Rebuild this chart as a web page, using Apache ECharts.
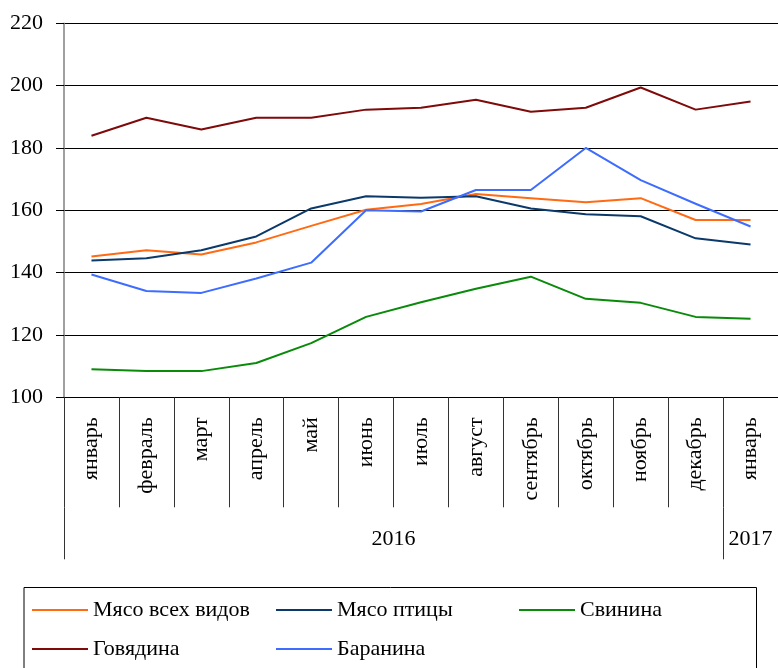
<!DOCTYPE html>
<html>
<head>
<meta charset="utf-8">
<script src="https://cdn.jsdelivr.net/npm/echarts@6/dist/echarts.min.js"></script>
<style>
html,body{margin:0;padding:0;background:#fff;}
#chart{width:778px;height:668px;}
</style>
</head>
<body>
<div id="chart"></div>
<script>
const months = ['январь','февраль','март','апрель','май','июнь','июль','август','сентябрь','октябрь','ноябрь','декабрь','январь'];
const years = ['2016','2017'];
const yearLabelPos = [6, 12.5];
const yearBounds = [0, 12];
const yTicks = [100, 120, 140, 160, 180, 200, 220];

const meatAll  = [145.2, 147.2, 145.8, 149.7, 155.0, 160.2, 162.0, 165.2, 163.9, 162.6, 163.9, 156.9, 156.9];
const poultry  = [143.9, 144.6, 147.2, 151.6, 160.6, 164.5, 164.0, 164.5, 160.6, 158.7, 158.1, 151.0, 149.0];
const pork     = [109.0, 108.4, 108.4, 111.0, 117.4, 125.8, 130.5, 134.8, 138.7, 131.6, 130.3, 125.8, 125.2];
const beef     = [183.9, 189.7, 185.9, 189.7, 189.7, 192.3, 192.9, 195.5, 191.6, 192.9, 199.4, 192.3, 194.9];
const mutton   = [139.4, 134.1, 133.5, 138.1, 143.2, 160.0, 159.6, 166.5, 166.5, 180.0, 169.7, 162.1, 154.8];

const names = ['Мясо всех видов','Мясо птицы','Свинина','Говядина','Баранина'];
const colors = ['#FF6A13','#0B3A6A','#0A8A0A','#7F0A0A','#3D6CFF'];
const dataSets = [meatAll, poultry, pork, beef, mutton];

const FONT = 'Liberation Serif';
const chart = echarts.init(document.getElementById('chart'), null, {renderer:'canvas'});

const legendText = {fontFamily: FONT, fontSize: 22, color: '#000', letterSpacing: 0.8};
function mkLegend(items, left){
  return {
    data: items.map(n => ({name: n, icon: 'rect'})), orient: 'vertical', left: left, top: 599, padding: 0,
    itemWidth: 56, itemHeight: 2, itemGap: 17, selectedMode: false,
    textStyle: legendText
  };
}

chart.setOption({
  animation: false,
  backgroundColor: '#fff',
  grid: {left: 64, right: 0, top: 23.3, bottom: 270.7, containLabel: false},
  graphic: [{
    type: 'rect', shape: {x: 24, y: 587.5, width: 732.5, height: 100},
    style: {fill: 'none', stroke: '#000', lineWidth: 1}, silent: true
  }],
  legend: [
    mkLegend([names[0], names[3]], 32),
    mkLegend([names[1], names[4]], 276),
    mkLegend([names[2]], 519)
  ],
  xAxis: [{
    type: 'category', data: months, boundaryGap: true,
    axisLine: {show: true, lineStyle: {color: '#000', width: 1}},
    axisTick: {show: true, interval: 0, length: 110, lineStyle: {color: '#333'}},
    axisLabel: {interval: 0, rotate: 90, margin: 20, fontFamily: FONT, fontSize: 22, color: '#000', letterSpacing: 0.8},
    splitLine: {show: false}
  },{
    type: 'value', min: 0, max: 13, position: 'bottom', offset: 110,
    axisLine: {show: false},
    axisTick: {show: true, customValues: yearBounds, length: 52, lineStyle: {color: '#333'}},
    axisLabel: {show: true, customValues: yearLabelPos, margin: 21, fontFamily: FONT, fontSize: 22, color: '#000',
      formatter: function(v){ const i = yearLabelPos.indexOf(v); return i >= 0 ? years[i] : ''; }},
    splitLine: {show: false}
  }],
  yAxis: {
    type: 'value', min: yTicks[0], max: yTicks[yTicks.length-1], interval: 20,
    axisLine: {show: true, lineStyle: {color: '#808080', width: 1.5}},
    axisTick: {show: true, length: 8, lineStyle: {color: '#000'}},
    axisLabel: {margin: 21, fontFamily: FONT, fontSize: 22, color: '#000'},
    splitLine: {show: true, lineStyle: {color: '#000', width: 1}}
  },
  series: dataSets.map((d, i) => ({
    name: names[i], type: 'line', data: d, xAxisIndex: 0,
    symbol: 'none', showSymbol: false,
    lineStyle: {color: colors[i], width: 2}, itemStyle: {color: colors[i]},
    z: 3
  }))
});
</script>
</body>
</html>
